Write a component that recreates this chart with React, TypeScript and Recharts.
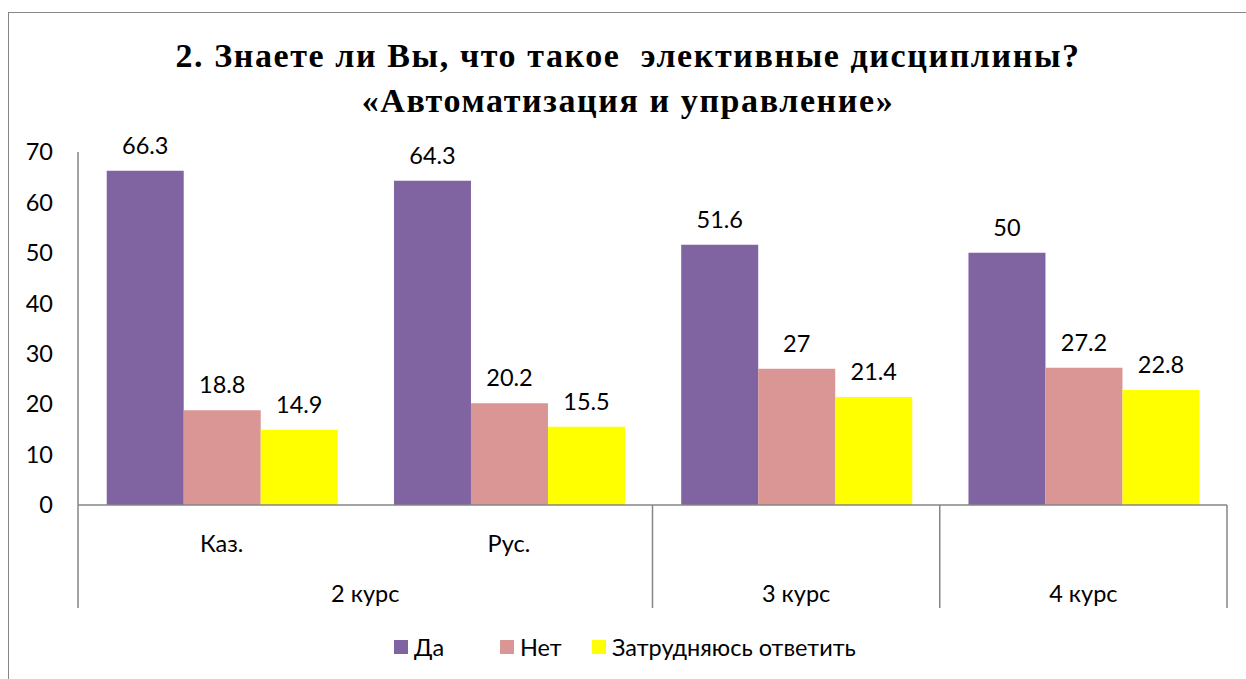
import React from "react";
import { BarChart, Bar, XAxis, YAxis, LabelList } from "recharts";

const subLabels = ["Каз.", "Рус.", "", ""];
const groupLabels = ["2 курс", "2 курс", "3 курс", "4 курс"];
const yesValues = [66.3, 64.3, 51.6, 50];
const noValues = [18.8, 20.2, 27, 27.2];
const unsureValues = [14.9, 15.5, 21.4, 22.8];
const yTicks = [0, 10, 20, 30, 40, 50, 60, 70];

const seriesNames = ["Да", "Нет", "Затрудняюсь ответить"];
const seriesColors = ["#8064A2", "#D99694", "#FFFF00"];

const data = subLabels.map((sub, i) => ({
  key: String(i),
  sub,
  group: groupLabels[i],
  yes: yesValues[i],
  no: noValues[i],
  unsure: unsureValues[i],
}));

const W = 1238;
const H = 667;
const margin = { top: 140, right: 19, bottom: 74, left: 10 };
const yAxisWidth = 60;
const plotWidth = W - margin.left - margin.right - yAxisWidth;
const band = plotWidth / subLabels.length;

const sansFont = "Lato, 'Open Sans', sans-serif";
const fontSize = 23.5;
const axisGray = "#868686";

function CategoryTick(props: any) {
  const { x, y, index } = props;
  const i = index as number;
  const isGroupStart = i === 0 || groupLabels[i] !== groupLabels[i - 1];
  const isGroupEnd = i === groupLabels.length - 1 || groupLabels[i] !== groupLabels[i + 1];
  let groupCenter = x;
  if (isGroupEnd) {
    let start = i;
    while (start > 0 && groupLabels[start - 1] === groupLabels[i]) start--;
    groupCenter = x - ((i - start) * band) / 2;
  }
  return (
    <g>
      {subLabels[i] && (
        <text x={x} y={y + 38} textAnchor="middle" dominantBaseline="central" fontSize={fontSize} fontFamily={sansFont} fill="#000">
          {subLabels[i]}
        </text>
      )}
      {isGroupStart && <line x1={x - band / 2} x2={x - band / 2} y1={y} y2={y + 103} stroke={axisGray} strokeWidth={1.5} />}
      {i === subLabels.length - 1 && <line x1={x + band / 2} x2={x + band / 2} y1={y} y2={y + 103} stroke={axisGray} strokeWidth={1.5} />}
      {isGroupEnd && (
        <text x={groupCenter} y={y + 88} textAnchor="middle" dominantBaseline="central" fontSize={fontSize} fontFamily={sansFont} fill="#000">
          {groupLabels[i]}
        </text>
      )}
    </g>
  );
}

export default function App() {
  return (
    <div
      style={{
        position: "absolute",
        left: 8,
        top: 12,
        width: W,
        height: H,
        borderLeft: `1.5px solid ${axisGray}`,
        borderTop: `1.5px solid ${axisGray}`,
        boxSizing: "border-box",
        background: "#fff",
      }}
    >
      <div
        style={{
          position: "absolute",
          left: 0,
          top: 20,
          width: W,
          textAlign: "center",
          fontFamily: "'Liberation Serif', 'Times New Roman', serif",
          fontWeight: "bold",
          fontSize: 34,
          letterSpacing: 1.6,
          lineHeight: "45px",
          color: "#000",
          whiteSpace: "pre",
        }}
      >
        {"2. Знаете ли Вы, что такое  элективные дисциплины?\n«Автоматизация и управление»"}
      </div>
      <div style={{ position: "absolute", left: -1, top: -1 }}>
        <BarChart width={W} height={H} data={data} margin={margin} barCategoryGap="10%" barGap={0}>
          <YAxis
            width={yAxisWidth}
            domain={[0, 70]}
            ticks={yTicks}
            interval={0}
            axisLine={{ stroke: axisGray, strokeWidth: 1.5 }}
            tickLine={false}
            tickSize={0}
            tickMargin={25}
            tick={{ fill: "#000", fontSize, fontFamily: sansFont }}
          />
          <XAxis
            dataKey="key"
            height={100}
            interval={0}
            axisLine={{ stroke: axisGray, strokeWidth: 1.5 }}
            tickLine={false}
            tickSize={0}
            tickMargin={0}
            tick={<CategoryTick />}
          />
          {(["yes", "no", "unsure"] as const).map((k, si) => (
            <Bar key={k} dataKey={k} name={seriesNames[si]} fill={seriesColors[si]} isAnimationActive={false}>
              <LabelList dataKey={k} position="top" offset={17} fill="#000" fontSize={fontSize} fontFamily={sansFont} />
            </Bar>
          ))}
        </BarChart>
      </div>
      <div
        style={{
          position: "absolute",
          left: 385,
          top: 622,
          display: "flex",
          alignItems: "center",
          fontFamily: sansFont,
          fontSize,
          color: "#000",
          height: 24,
        }}
      >
        {seriesNames.map((n, i) => (
          <div key={n} style={{ display: "flex", alignItems: "center", width: i === 0 ? 106 : i === 1 ? 92 : "auto" }}>
            <span style={{ display: "inline-block", width: 14, height: 14, background: seriesColors[i], marginRight: 6 }} />
            <span>{n}</span>
          </div>
        ))}
      </div>
    </div>
  );
}
